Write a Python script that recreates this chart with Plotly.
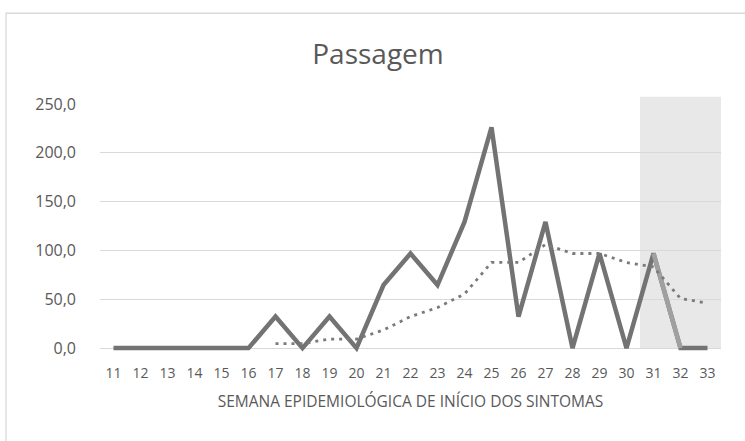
import plotly.graph_objects as go

weeks = [str(w) for w in range(11, 34)]
passagem = [0, 0, 0, 0, 0, 0, 32.3, 0, 32.3, 0, 64.6, 96.9, 64.6, 129.2, 226.1,
            32.3, 129.2, 0, 96.9, 0, 96.9, 0, 0]
media_weeks = [str(w) for w in range(17, 34)]
media_movel = [4.6, 4.6, 9.2, 9.2, 18.5, 32.3, 41.5, 55.4, 87.7, 87.7, 106.1,
               96.9, 96.9, 87.7, 83.1, 50.8, 46.1]
recent_weeks = ["31", "32"]
recent_values = [96.9, 0]
y_ticks = [0, 50, 100, 150, 200, 250]

W, H = 745, 441
PL, PR = 100, 721
PT = 103.7
YMIN, YMAX = -4, 250
PB = 347.7 + (0 - YMIN) * (347.7 - PT) / YMAX

FONT = "Open Sans"
TXT = "#595959"

fig = go.Figure()
fig.add_trace(go.Scatter(x=weeks, y=passagem, mode="lines",
                         line=dict(color="#737373", width=4.5), showlegend=False))
fig.add_trace(go.Scatter(x=recent_weeks, y=recent_values, mode="lines",
                         line=dict(color="#a0a0a0", width=4.5), showlegend=False))
fig.add_trace(go.Scatter(x=media_weeks, y=media_movel, mode="lines",
                         line=dict(color="#7a7a7a", width=2.8, dash="3px,5px"),
                         showlegend=False))

pw = PR - PL
ph = PB - PT
def px_x(p):
    return (p - PL) / pw
def px_y(p):
    return (PB - p) / ph

# shaded recent-weeks band
fig.add_shape(type="rect", xref="x", yref="paper", x0=19.5, x1=22.5,
              y0=px_y(347.7), y1=px_y(96.4), fillcolor="#e8e8e8",
              line=dict(width=0), layer="below")
# chart border (extends past the bottom/right edges)
fig.add_shape(type="rect", xref="paper", yref="paper", x0=px_x(6), x1=px_x(760),
              y0=px_y(460), y1=px_y(13), line=dict(color="#d9d9d9", width=1.3),
              fillcolor="rgba(0,0,0,0)", layer="below")

fig.update_layout(
    width=W, height=H,
    margin=dict(l=PL, r=W - PR, t=PT, b=H - PB, autoexpand=False),
    paper_bgcolor="white", plot_bgcolor="rgba(0,0,0,0)",
    separators=",.",
    title=dict(text="Passagem", x=378 / W, xref="container", xanchor="center",
               y=1 - 54 / H, yref="container", yanchor="middle",
               font=dict(family=FONT, size=28, color=TXT)),
    font=dict(family=FONT, color=TXT),
    xaxis=dict(type="category", range=[-0.5, 22.5], showgrid=False,
               showline=False, zeroline=False, ticks="",
               ticklabelstandoff=11,
               tickfont=dict(size=14, color=TXT),
               title=dict(text="SEMANA EPIDEMIOLÓGICA DE INÍCIO DOS SINTOMAS",
                          font=dict(size=15.5, color=TXT), standoff=15)),
    yaxis=dict(range=[YMIN, YMAX], tickvals=y_ticks, tickformat=".1f",
               showgrid=True, gridcolor="#d9d9d9", gridwidth=1.3,
               zeroline=False, showline=False, ticks="",
               ticklabelstandoff=23,
               tickfont=dict(size=16, color=TXT)),
)

fig.write_html("out.html", config={"displayModeBar": False},
               post_script="document.body.style.margin='0';")
